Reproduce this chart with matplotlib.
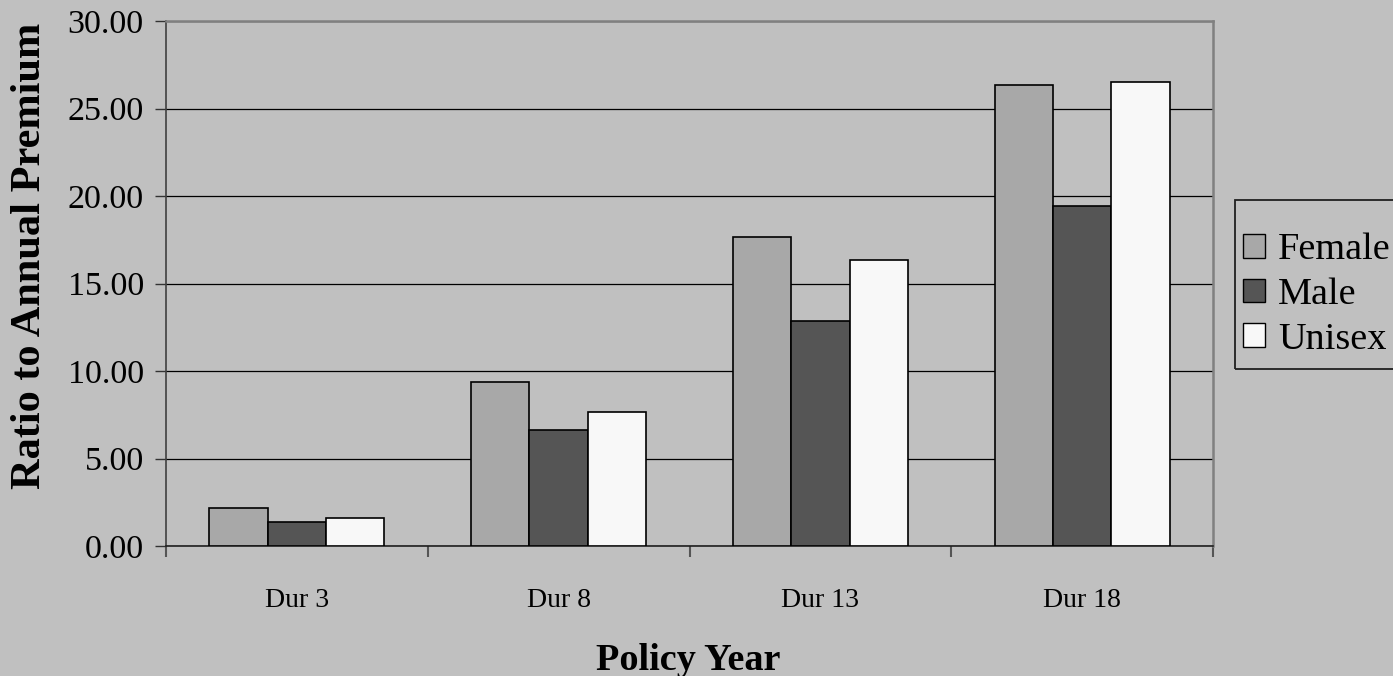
import numpy as np
import matplotlib
matplotlib.use('Agg')
from matplotlib import pyplot as plt
from matplotlib.patches import Patch, Rectangle

categories = ['Dur 3', 'Dur 8', 'Dur 13', 'Dur 18']
female = [2.19, 9.39, 17.64, 26.32]
male = [1.37, 6.65, 12.84, 19.45]
unisex = [1.62, 7.68, 16.36, 26.52]
series_names = ['Female', 'Male', 'Unisex']
colors = ['#a8a8a8', '#555555', '#f8f8f8']
yticks = [0, 5, 10, 15, 20, 25, 30]

plt.rcParams['font.family'] = ['Liberation Serif', 'DejaVu Serif']
bg = '#c0c0c0'
W, H = 1393, 676

fig = plt.figure(figsize=(W / 100, H / 100), dpi=100, facecolor=bg)
ax = fig.add_axes([166 / W, 1 - 546 / H, (1213 - 166) / W, (546 - 21) / H])
ax.set_facecolor(bg)

x = np.arange(len(categories))
w = 0.2228
for i, (vals, c) in enumerate(zip([female, male, unisex], colors)):
    ax.bar(x + (i - 1) * w, vals, w, color=c, edgecolor='black', linewidth=1.2, zorder=3)

ax.set_xlim(-0.5, 3.5)
ax.set_ylim(0, 30)
ax.set_yticks(yticks)
ax.set_yticklabels(['%.2f' % v for v in yticks])
ax.yaxis.grid(True, color='black', linewidth=0.9, zorder=0)

# labels at centers, tick marks on category boundaries
ax.set_xticks(x)
ax.set_xticklabels(categories)
ax.set_xticks(np.arange(-0.5, 4, 1), minor=True)
ax.tick_params(axis='x', which='major', length=0, pad=30, labelsize=20)
ax.tick_params(axis='x', which='minor', length=8, width=1.5, color='#555555', direction='out')
ax.tick_params(axis='y', length=8, width=1, color='#333333', pad=8, labelsize=24.5)

for s in ['top', 'right']:
    ax.spines[s].set_color('#808080')
    ax.spines[s].set_linewidth(1.8)
ax.spines['left'].set_color('#404040')
ax.spines['bottom'].set_color('#202020')
ax.spines['left'].set_linewidth(1.2)
ax.spines['bottom'].set_linewidth(1.2)

fig.text(30 / W, 1 - 256 / H, 'Ratio to Annual Premium', rotation=90,
         ha='center', va='center', fontsize=30.5, fontweight='bold')
fig.text(688 / W, 1 - 660 / H, 'Policy Year', ha='center', va='center',
         fontsize=27.5, fontweight='bold')

# legend frame runs off the right edge of the figure
fig.patches.append(Rectangle((1235 / W, 1 - 369 / H), 200 / W, 169 / H,
                             transform=fig.transFigure, facecolor='none',
                             edgecolor='#202020', linewidth=1.3))
handles = [Patch(facecolor=c, edgecolor='black', linewidth=1) for c in colors]
leg = fig.legend(handles, series_names, loc='upper left',
                 bbox_to_anchor=(1235 / W, 1 - 225 / H), fontsize=27.5,
                 frameon=False, handlelength=0.58, handleheight=0.58,
                 handletextpad=0.34, labelspacing=0.27, borderpad=0.2,
                 borderaxespad=0)

fig.savefig('out.png', dpi=100, facecolor=bg)
